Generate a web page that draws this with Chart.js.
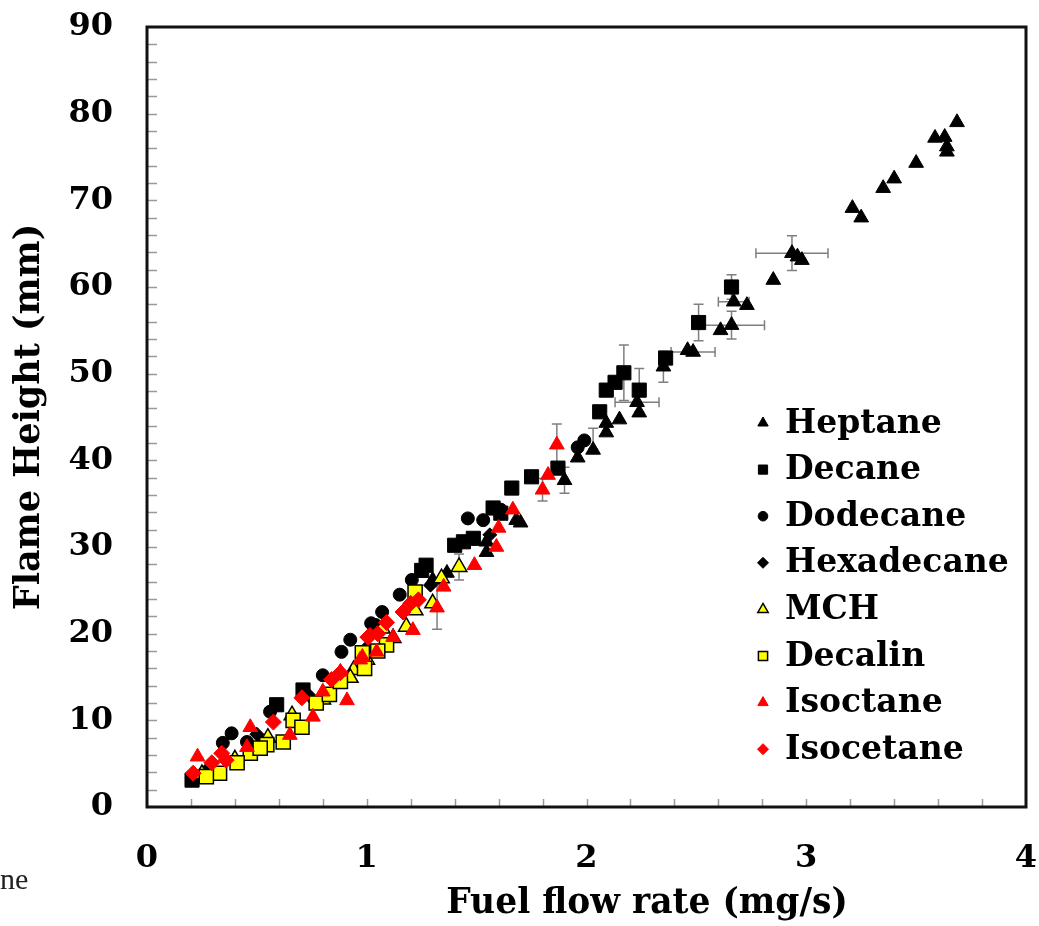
<!DOCTYPE html>
<html><head><meta charset="utf-8">
<script src="https://cdn.jsdelivr.net/npm/chart.js@4.4.0/dist/chart.umd.min.js"></script>
<style>html,body{margin:0;padding:0;background:#fff;}#wrap{position:relative;width:1039px;height:926px;}</style>
</head><body><div id="wrap"><canvas id="c" width="1039" height="926"></canvas></div>
<script>
// ---- data (x = fuel flow rate mg/s, y = flame height mm) ----
const heptane = [[3.686,79.0],[3.63,77.3],[3.586,77.2],[3.64,76.2],[3.64,75.6],[3.50,74.3],[3.40,72.5],[3.35,71.4],[3.21,69.1],[3.25,68.0],[2.935,63.9],[2.96,63.5],[2.98,63.1],[2.85,60.8],[2.67,58.3],[2.73,57.9],[2.66,55.6],[2.61,55.0],[2.485,52.5],[2.46,52.7],[2.35,50.8],[2.23,46.7],[2.24,45.5],[2.09,44.3],[2.15,44.7],[2.09,43.2],[2.03,41.2],[1.96,40.3],[1.90,37.7],[1.70,32.8],[1.68,33.1],[1.545,30.6],[1.545,29.4],[1.365,27.0],[1.30,26.2],[0.30,4.3],[0.52,7.6]];
const decane = [[2.66,60.0],[2.51,55.9],[2.36,51.8],[2.17,50.1],[2.13,49.0],[2.09,48.1],[2.24,48.1],[2.06,45.6],[1.87,39.1],[1.75,38.1],[1.66,36.8],[1.575,34.5],[1.61,33.9],[1.40,30.2],[1.485,31.0],[1.44,30.6],[1.27,27.9],[1.25,27.3],[0.71,13.5],[0.59,11.8],[0.205,3.1]];
const dodecane = [[1.96,41.5],[1.99,42.3],[1.46,33.3],[1.53,33.1],[1.61,34.3],[1.205,26.2],[1.15,24.5],[1.07,22.5],[1.04,21.0],[1.02,21.2],[0.925,19.3],[0.885,17.9],[0.80,15.2],[0.56,11.0],[0.385,8.5],[0.455,7.5],[0.345,7.4]];
const hexadecane = [[0.28,4.5],[0.50,8.4],[0.74,12.8],[1.00,18.4],[1.29,25.6],[1.56,31.4]];
const mch = [[1.42,27.7],[1.34,26.4],[1.30,23.5],[1.22,22.7],[1.18,20.8],[1.07,20.6],[0.94,15.8],[0.925,14.9],[0.80,12.4],[0.66,10.6],[0.55,8.0],[0.40,5.5],[0.25,3.8],[1.12,19.5],[1.00,17.0]];
const decalin = [[1.22,24.8],[1.09,18.7],[0.98,17.8],[0.99,16.0],[0.77,12.0],[0.665,10.0],[0.705,9.2],[0.62,7.5],[0.545,7.2],[0.47,6.2],[0.515,6.8],[0.41,5.1],[0.33,3.9],[0.27,3.5],[1.05,18.0],[0.83,13.0],[0.88,14.5]];
const isoctane = [[1.865,41.8],[1.825,38.3],[1.80,36.6],[1.665,34.3],[1.60,32.2],[1.59,30.0],[1.49,27.9],[1.35,25.4],[1.32,23.0],[1.21,20.4],[1.12,19.6],[1.045,17.9],[0.97,17.0],[0.98,17.3],[0.88,15.6],[0.91,12.3],[0.80,13.3],[0.755,10.4],[0.65,8.3],[0.47,9.2],[0.455,6.9],[0.23,5.8]];
const isocetane = [[1.235,23.9],[1.20,23.5],[1.165,22.5],[1.09,21.3],[1.015,19.8],[1.005,19.6],[0.88,15.5],[0.84,14.7],[0.705,12.6],[0.575,9.8],[0.34,6.2],[0.36,5.4],[0.295,5.1],[0.21,3.9],[1.05,20.0]];
// error bars: [x, y, xErr, yErr]
const errorBars = [[2.935,63.9,0.164,2.0],[2.66,60.0,0,1.4],[2.67,58.3,0.07,0],[2.66,55.6,0.15,1.6],[2.51,55.9,0,2.1],[2.485,52.5,0.1,0],[2.35,50.8,0,1.8],[2.17,50.1,0,3.2],[2.24,48.1,0,2.5],[2.23,46.7,0.1,0],[1.865,41.8,0,2.4],[1.90,37.7,0,1.5],[2.03,42.5,0,1.2],[1.42,27.7,0,1.5],[1.32,23.0,0,2.5],[1.80,36.6,0,1.3]];
const seriesNames = ['Heptane','Decane','Dodecane','Hexadecane','MCH','Decalin','Isoctane','Isocetane'];
const xTicks = [0,1,2,3,4];
const yTicks = [0,10,20,30,40,50,60,70,80,90];
const xTitle = 'Fuel flow rate (mg/s)';
const yTitle = 'Flame Height (mm)';

const SERIF = "'DejaVu Serif', serif";
const toPts = a => a.map(p => ({x:p[0], y:p[1]}));
const styles = [
  {pointStyle:'triangle', r:8.5, bg:'#000', bd:'#000', bw:1, lr:6},
  {pointStyle:'rect', r:10, bg:'#000', bd:'#000', bw:1, lr:6.5},
  {pointStyle:'circle', r:6.5, bg:'#000', bd:'#000', bw:1, lr:4.8},
  {pointStyle:'rectRot', r:7, bg:'#000', bd:'#000', bw:1, lr:5.5},
  {pointStyle:'triangle', r:9, bg:'#ffff00', bd:'#000', bw:1.5, lr:6},
  {pointStyle:'rect', r:10, bg:'#ffff00', bd:'#000', bw:1.5, lr:6.5},
  {pointStyle:'triangle', r:8.5, bg:'#ff0000', bd:'#ff0000', bw:1, lr:6},
  {pointStyle:'rectRot', r:8, bg:'#ff0000', bd:'#ff0000', bw:1, lr:5.5}
];
const allData = [heptane, decane, dodecane, hexadecane, mch, decalin, isoctane, isocetane];
const datasets = allData.map((d,i) => ({
  label: seriesNames[i], data: toPts(d), showLine:false,
  pointStyle: styles[i].pointStyle, pointRadius: styles[i].r, pointHoverRadius: styles[i].r,
  backgroundColor: styles[i].bg, borderColor: styles[i].bd, borderWidth: styles[i].bw,
  order: 8 - i
}));

const zeroPad = s => { s.paddingTop = 0; s.paddingBottom = 0; s.paddingLeft = 0; s.paddingRight = 0; };

const deco = {
  id:'deco',
  beforeDatasetsDraw(chart){
    const ctx = chart.ctx, xs = chart.scales.x, ys = chart.scales.y, a = chart.chartArea;
    ctx.save();
    // minor ticks (inward)
    ctx.strokeStyle = '#9a9a9a'; ctx.lineWidth = 1.5;
    for (let v = 0.2; v < 4; v += 0.2) {
      const px = Math.round(xs.getPixelForValue(v)) + 0.5;
      ctx.beginPath(); ctx.moveTo(px, a.bottom); ctx.lineTo(px, a.bottom - 8); ctx.stroke();
    }
    for (let v = 2; v < 90; v += 2) {
      const py = Math.round(ys.getPixelForValue(v)) + 0.5;
      ctx.beginPath(); ctx.moveTo(a.left, py); ctx.lineTo(a.left + 10, py); ctx.stroke();
    }
    // error bars
    ctx.strokeStyle = '#7f7f7f'; ctx.lineWidth = 1.5;
    errorBars.forEach(([x,y,dx,dy]) => {
      const px = xs.getPixelForValue(x), py = ys.getPixelForValue(y);
      if (dy) {
        const t = ys.getPixelForValue(y+dy), b = ys.getPixelForValue(y-dy);
        ctx.beginPath(); ctx.moveTo(px,t); ctx.lineTo(px,b);
        ctx.moveTo(px-5,t); ctx.lineTo(px+5,t); ctx.moveTo(px-5,b); ctx.lineTo(px+5,b); ctx.stroke();
      }
      if (dx) {
        const l = xs.getPixelForValue(x-dx), r = xs.getPixelForValue(x+dx);
        ctx.beginPath(); ctx.moveTo(l,py); ctx.lineTo(r,py);
        ctx.moveTo(l,py-5); ctx.lineTo(l,py+5); ctx.moveTo(r,py-5); ctx.lineTo(r,py+5); ctx.stroke();
      }
    });
    // frame
    ctx.strokeStyle = '#111'; ctx.lineWidth = 3;
    ctx.strokeRect(a.left, a.top, a.right - a.left, a.bottom - a.top);
    ctx.restore();
  },
  afterDraw(chart){
    const ctx = chart.ctx;
    ctx.save();
    // legend
    chart.data.datasets.forEach((ds,i) => {
      const y = 423 + i*46.6;
      ctx.fillStyle = styles[i].bg; ctx.strokeStyle = styles[i].bd; ctx.lineWidth = styles[i].bw;
      Chart.helpers.drawPoint(ctx, {pointStyle: styles[i].pointStyle, radius: styles[i].lr, borderWidth: styles[i].bw, rotation:0}, 763, y);
      ctx.fillStyle = '#000'; ctx.font = "bold 33px " + SERIF; ctx.textBaseline = 'middle'; ctx.textAlign = 'left';
      ctx.fillText(ds.label, 785, y + 1);
    });
    // x-axis title
    ctx.fillStyle = '#000'; ctx.font = "bold 34.5px " + SERIF; ctx.textAlign = 'center'; ctx.textBaseline = 'alphabetic';
    ctx.fillText(xTitle, 647, 913);
    // stray caption fragment at bottom left
    ctx.fillStyle = '#222'; ctx.font = "30px 'Liberation Serif', serif"; ctx.textAlign = 'left';
    ctx.fillText('ne', 0, 889);
    ctx.restore();
  }
};

new Chart(document.getElementById('c'), {
  type:'scatter',
  data:{datasets},
  options:{
    responsive:false, animation:false, devicePixelRatio:1,
    layout:{padding:{left:0, top:27, right:13, bottom:0}},
    plugins:{legend:{display:false}, tooltip:{enabled:false}},
    scales:{
      x:{type:'linear', min:0, max:4,
        afterBuildTicks: s => { s.ticks = xTicks.map(v => ({value:v})); },
        afterFit: s => { s.height = 119; zeroPad(s); },
        grid:{display:false, drawTicks:false}, border:{display:false},
        ticks:{color:'#000', font:{family:SERIF, size:32, weight:'bold'}, padding:32, maxRotation:0, callback: v => String(v)}
      },
      y:{type:'linear', min:0, max:90,
        afterBuildTicks: s => { s.ticks = yTicks.map(v => ({value:v})); },
        afterFit: s => { s.width = 147; zeroPad(s); },
        grid:{display:false, drawTicks:false}, border:{display:false},
        title:{display:true, text:yTitle, color:'#000', font:{family:SERIF, size:35, weight:'bold'}, padding:{top:9, bottom:0}},
        ticks:{color:'#000', font:{family:SERIF, size:32, weight:'bold'}, padding:34, callback: v => String(v)}
      }
    }
  },
  plugins:[deco]
});
</script>
</body></html>
